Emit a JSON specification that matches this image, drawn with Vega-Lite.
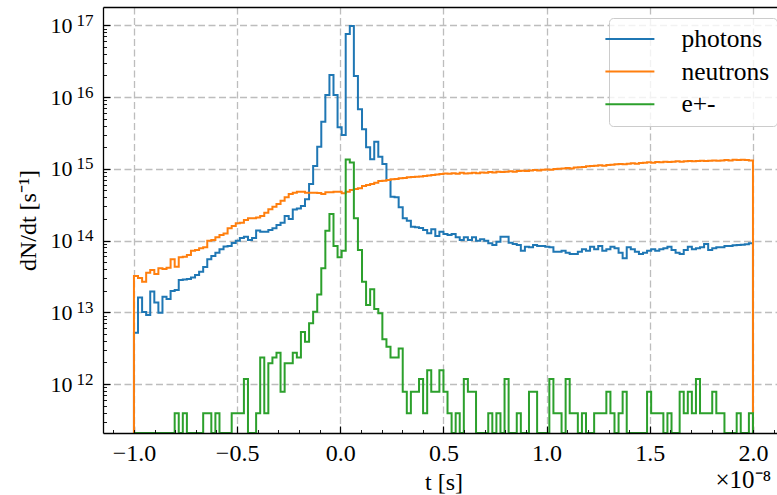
{
"$schema": "https://vega.github.io/schema/vega-lite/v6.json",
"width": 674, "height": 426,
"autosize": {"type": "none"},
"padding": {"left": 103, "top": 7, "right": 0, "bottom": 62},
"config": {
  "view": {"stroke": null},
  "font": "Liberation Serif",
  "axis": {"labelFont": "Liberation Serif", "titleFont": "Liberation Serif", "labelColor": "#000", "titleColor": "#000", "titleFontWeight": "normal", "tickColor": "#000", "domainColor": "#000", "labelFlush": false, "labelOverlap": false, "labelBound": false},
  "legend": {"labelFont": "Liberation Serif"}
},
"data": {"values": [
{"t":-1.0,"photons":0,"neutrons":0,"e+-":0},
{"t":-1.0,"photons":5.2e12,"neutrons":3.21e13,"e+-":0},
{"t":-0.9803,"photons":1.61e13,"neutrons":3.01e13,"e+-":0},
{"t":-0.9605,"photons":1.01e13,"neutrons":2.67e13,"e+-":0},
{"t":-0.9408,"photons":9.17e12,"neutrons":3.56e13,"e+-":0},
{"t":-0.9211,"photons":1.94e13,"neutrons":3.89e13,"e+-":0},
{"t":-0.9013,"photons":1.37e13,"neutrons":3.42e13,"e+-":0},
{"t":-0.8816,"photons":9.87e12,"neutrons":4.10e13,"e+-":0},
{"t":-0.8618,"photons":1.65e13,"neutrons":4.01e13,"e+-":0},
{"t":-0.8421,"photons":1.53e13,"neutrons":4.18e13,"e+-":0},
{"t":-0.8224,"photons":1.98e13,"neutrons":5.48e13,"e+-":0},
{"t":-0.8026,"photons":2.05e13,"neutrons":4.32e13,"e+-":3.9e11},
{"t":-0.7829,"photons":2.82e13,"neutrons":5.84e13,"e+-":0},
{"t":-0.7632,"photons":2.86e13,"neutrons":5.96e13,"e+-":3.9e11},
{"t":-0.7434,"photons":2.91e13,"neutrons":6.29e13,"e+-":0},
{"t":-0.7237,"photons":3.05e13,"neutrons":7.22e13,"e+-":0},
{"t":-0.7039,"photons":3.31e13,"neutrons":7.38e13,"e+-":0},
{"t":-0.6842,"photons":3.68e13,"neutrons":7.80e13,"e+-":0},
{"t":-0.6645,"photons":4.28e13,"neutrons":8.05e13,"e+-":3.9e11},
{"t":-0.6447,"photons":5.48e13,"neutrons":9.95e13,"e+-":3.9e11},
{"t":-0.625,"photons":6.09e13,"neutrons":1.018e14,"e+-":0},
{"t":-0.6053,"photons":6.77e13,"neutrons":1.11e14,"e+-":3.9e11},
{"t":-0.5855,"photons":7.55e13,"neutrons":1.195e14,"e+-":0},
{"t":-0.5658,"photons":8.26e13,"neutrons":1.254e14,"e+-":0},
{"t":-0.5461,"photons":8.39e13,"neutrons":1.48e14,"e+-":0},
{"t":-0.5263,"photons":9.24e13,"neutrons":1.595e14,"e+-":3.9e11},
{"t":-0.5066,"photons":9.95e13,"neutrons":1.74e14,"e+-":3.9e11},
{"t":-0.4868,"photons":1.085e14,"neutrons":1.77e14,"e+-":3.9e11},
{"t":-0.4671,"photons":1.13e14,"neutrons":1.93e14,"e+-":1.17e12},
{"t":-0.4474,"photons":1.018e14,"neutrons":2.04e14,"e+-":0},
{"t":-0.4276,"photons":1.085e14,"neutrons":2.04e14,"e+-":0},
{"t":-0.4079,"photons":1.38e14,"neutrons":2.10e14,"e+-":3.9e11},
{"t":-0.3882,"photons":1.33e14,"neutrons":2.20e14,"e+-":2.34e12},
{"t":-0.3684,"photons":1.33e14,"neutrons":2.44e14,"e+-":3.9e11},
{"t":-0.3487,"photons":1.40e14,"neutrons":2.73e14,"e+-":1.95e12},
{"t":-0.3289,"photons":1.48e14,"neutrons":2.96e14,"e+-":2.34e12},
{"t":-0.3092,"photons":1.65e14,"neutrons":3.23e14,"e+-":2.73e12},
{"t":-0.2895,"photons":1.77e14,"neutrons":3.59e14,"e+-":7.8e11},
{"t":-0.2697,"photons":2.20e14,"neutrons":4.01e14,"e+-":1.95e12},
{"t":-0.25,"photons":2.00e14,"neutrons":4.45e14,"e+-":1.95e12},
{"t":-0.2303,"photons":2.71e14,"neutrons":4.64e14,"e+-":2.73e12},
{"t":-0.2105,"photons":2.80e14,"neutrons":4.80e14,"e+-":2.34e12},
{"t":-0.1908,"photons":3.03e14,"neutrons":4.80e14,"e+-":5.31e12},
{"t":-0.1711,"photons":3.76e14,"neutrons":4.64e14,"e+-":3.89e12},
{"t":-0.1513,"photons":6.14e14,"neutrons":4.64e14,"e+-":7.02e12},
{"t":-0.1316,"photons":1.094e15,"neutrons":4.64e14,"e+-":1.02e13},
{"t":-0.1118,"photons":2.03e15,"neutrons":4.60e14,"e+-":1.77e13},
{"t":-0.0921,"photons":4.53e15,"neutrons":4.45e14,"e+-":4.10e13},
{"t":-0.0724,"photons":1.07e16,"neutrons":4.70e14,"e+-":1.372e14},
{"t":-0.0526,"photons":2.03e16,"neutrons":4.70e14,"e+-":2.34e14},
{"t":-0.0329,"photons":1.07e16,"neutrons":4.80e14,"e+-":8.39e13},
{"t":-0.0132,"photons":3.79e15,"neutrons":4.80e14,"e+-":5.84e13},
{"t":0.0066,"photons":2.96e15,"neutrons":4.55e14,"e+-":7.22e13},
{"t":0.0263,"photons":7.56e16,"neutrons":4.80e14,"e+-":1.35e15},
{"t":0.0461,"photons":9.78e16,"neutrons":5.06e14,"e+-":1.224e15},
{"t":0.0658,"photons":1.97e16,"neutrons":5.23e14,"e+-":2.04e14},
{"t":0.0855,"photons":6.75e15,"neutrons":5.35e14,"e+-":7.38e13},
{"t":0.1053,"photons":3.55e15,"neutrons":5.76e14,"e+-":2.67e13},
{"t":0.125,"photons":1.99e15,"neutrons":5.95e14,"e+-":1.264e13},
{"t":0.1447,"photons":1.36e15,"neutrons":6.14e14,"e+-":2.09e13},
{"t":0.1645,"photons":2.39e15,"neutrons":6.40e14,"e+-":1.11e13},
{"t":0.1842,"photons":1.47e15,"neutrons":6.76e14,"e+-":9.68e12},
{"t":0.2039,"photons":1.17e15,"neutrons":6.83e14,"e+-":4.2e12},
{"t":0.2237,"photons":6.98e14,"neutrons":6.98e14,"e+-":3.3e12},
{"t":0.2434,"photons":4.08e14,"neutrons":7.14e14,"e+-":2.34e12},
{"t":0.2632,"photons":4.01e14,"neutrons":7.21e14,"e+-":2.34e12},
{"t":0.2829,"photons":2.91e14,"neutrons":7.37e14,"e+-":3.12e12},
{"t":0.3026,"photons":2.04e14,"neutrons":7.42e14,"e+-":7.8e11},
{"t":0.3224,"photons":1.89e14,"neutrons":7.61e14,"e+-":3.9e11},
{"t":0.3421,"photons":1.56e14,"neutrons":7.66e14,"e+-":7.8e11},
{"t":0.3618,"photons":1.53e14,"neutrons":7.76e14,"e+-":7.8e11},
{"t":0.3816,"photons":1.50e14,"neutrons":7.83e14,"e+-":1.17e12},
{"t":0.4013,"photons":1.40e14,"neutrons":7.93e14,"e+-":3.9e11},
{"t":0.4211,"photons":1.26e14,"neutrons":8.06e14,"e+-":1.56e12},
{"t":0.4408,"photons":1.435e14,"neutrons":8.19e14,"e+-":7.8e11},
{"t":0.4605,"photons":1.157e14,"neutrons":8.32e14,"e+-":7.8e11},
{"t":0.4803,"photons":1.33e14,"neutrons":8.46e14,"e+-":1.56e12},
{"t":0.5,"photons":1.234e14,"neutrons":8.60e14,"e+-":7.8e11},
{"t":0.5197,"photons":1.195e14,"neutrons":8.52e14,"e+-":3.9e11},
{"t":0.5395,"photons":1.234e14,"neutrons":8.66e14,"e+-":0},
{"t":0.5592,"photons":1.11e14,"neutrons":8.56e14,"e+-":3.9e11},
{"t":0.5789,"photons":1.018e14,"neutrons":8.82e14,"e+-":0},
{"t":0.5987,"photons":1.11e14,"neutrons":8.60e14,"e+-":1.17e12},
{"t":0.6184,"photons":1.018e14,"neutrons":8.66e14,"e+-":7.8e11},
{"t":0.6382,"photons":1.11e14,"neutrons":8.82e14,"e+-":7.8e11},
{"t":0.6579,"photons":9.95e13,"neutrons":8.66e14,"e+-":0},
{"t":0.6776,"photons":1.041e14,"neutrons":8.9e14,"e+-":0},
{"t":0.6974,"photons":9.95e13,"neutrons":8.82e14,"e+-":0},
{"t":0.7171,"photons":9.15e13,"neutrons":9.02e14,"e+-":3.9e11},
{"t":0.7368,"photons":8.67e13,"neutrons":8.9e14,"e+-":0},
{"t":0.7566,"photons":9.64e13,"neutrons":9.1e14,"e+-":3.9e11},
{"t":0.7763,"photons":1.13e14,"neutrons":9.02e14,"e+-":0},
{"t":0.7961,"photons":1.13e14,"neutrons":9.1e14,"e+-":1.17e12},
{"t":0.8158,"photons":9.33e13,"neutrons":9.22e14,"e+-":0},
{"t":0.8355,"photons":8.95e13,"neutrons":9.1e14,"e+-":0},
{"t":0.8553,"photons":8.67e13,"neutrons":9.32e14,"e+-":3.9e11},
{"t":0.875,"photons":7.22e13,"neutrons":9.4e14,"e+-":0},
{"t":0.8947,"photons":8.21e13,"neutrons":9.32e14,"e+-":0},
{"t":0.9145,"photons":8.05e13,"neutrons":9.5e14,"e+-":7.8e11},
{"t":0.9342,"photons":8.67e13,"neutrons":9.62e14,"e+-":7.8e11},
{"t":0.9539,"photons":8.39e13,"neutrons":9.5e14,"e+-":0},
{"t":0.9737,"photons":8.39e13,"neutrons":9.7e14,"e+-":0},
{"t":0.9934,"photons":8.21e13,"neutrons":9.8e14,"e+-":0},
{"t":1.0132,"photons":8.05e13,"neutrons":9.7e14,"e+-":1.17e12},
{"t":1.0329,"photons":6.99e13,"neutrons":9.94e14,"e+-":3.9e11},
{"t":1.0526,"photons":6.99e13,"neutrons":1.0e15,"e+-":3.9e11},
{"t":1.0724,"photons":7.22e13,"neutrons":1.013e15,"e+-":0},
{"t":1.0921,"photons":6.77e13,"neutrons":1.026e15,"e+-":1.17e12},
{"t":1.1118,"photons":6.49e13,"neutrons":1.013e15,"e+-":3.9e11},
{"t":1.1316,"photons":6.49e13,"neutrons":1.04e15,"e+-":3.9e11},
{"t":1.1513,"photons":6.99e13,"neutrons":1.053e15,"e+-":0},
{"t":1.1711,"photons":7.55e13,"neutrons":1.06e15,"e+-":3.9e11},
{"t":1.1908,"photons":7.22e13,"neutrons":1.085e15,"e+-":0},
{"t":1.2105,"photons":8.21e13,"neutrons":1.094e15,"e+-":0},
{"t":1.2303,"photons":7.55e13,"neutrons":1.105e15,"e+-":3.9e11},
{"t":1.25,"photons":8.39e13,"neutrons":1.12e15,"e+-":3.9e11},
{"t":1.2697,"photons":7.22e13,"neutrons":1.105e15,"e+-":3.9e11},
{"t":1.2895,"photons":7.55e13,"neutrons":1.13e15,"e+-":7.8e11},
{"t":1.3092,"photons":8.21e13,"neutrons":1.14e15,"e+-":3.9e11},
{"t":1.3289,"photons":7.80e13,"neutrons":1.155e15,"e+-":0},
{"t":1.3487,"photons":6.77e13,"neutrons":1.167e15,"e+-":3.9e11},
{"t":1.3684,"photons":5.66e13,"neutrons":1.155e15,"e+-":7.8e11},
{"t":1.3882,"photons":8.05e13,"neutrons":1.18e15,"e+-":0},
{"t":1.4079,"photons":7.55e13,"neutrons":1.195e15,"e+-":0},
{"t":1.4276,"photons":6.99e13,"neutrons":1.18e15,"e+-":0},
{"t":1.4474,"photons":6.49e13,"neutrons":1.204e15,"e+-":0},
{"t":1.4671,"photons":6.77e13,"neutrons":1.215e15,"e+-":0},
{"t":1.4868,"photons":7.22e13,"neutrons":1.23e15,"e+-":7.8e11},
{"t":1.5066,"photons":7.55e13,"neutrons":1.215e15,"e+-":3.9e11},
{"t":1.5263,"photons":7.22e13,"neutrons":1.244e15,"e+-":3.9e11},
{"t":1.5461,"photons":7.55e13,"neutrons":1.23e15,"e+-":3.9e11},
{"t":1.5658,"photons":7.80e13,"neutrons":1.255e15,"e+-":0},
{"t":1.5855,"photons":8.21e13,"neutrons":1.244e15,"e+-":3.9e11},
{"t":1.6053,"photons":7.38e13,"neutrons":1.255e15,"e+-":0},
{"t":1.625,"photons":6.77e13,"neutrons":1.27e15,"e+-":0},
{"t":1.6447,"photons":6.49e13,"neutrons":1.255e15,"e+-":7.8e11},
{"t":1.6645,"photons":7.38e13,"neutrons":1.27e15,"e+-":3.9e11},
{"t":1.6842,"photons":8.21e13,"neutrons":1.285e15,"e+-":7.8e11},
{"t":1.7039,"photons":7.55e13,"neutrons":1.27e15,"e+-":3.9e11},
{"t":1.7237,"photons":7.80e13,"neutrons":1.285e15,"e+-":1.17e12},
{"t":1.7434,"photons":8.05e13,"neutrons":1.295e15,"e+-":3.9e11},
{"t":1.7632,"photons":8.95e13,"neutrons":1.285e15,"e+-":3.9e11},
{"t":1.7829,"photons":7.38e13,"neutrons":1.295e15,"e+-":3.9e11},
{"t":1.8026,"photons":7.80e13,"neutrons":1.31e15,"e+-":7.8e11},
{"t":1.8224,"photons":8.05e13,"neutrons":1.295e15,"e+-":3.9e11},
{"t":1.8421,"photons":8.05e13,"neutrons":1.31e15,"e+-":3.9e11},
{"t":1.8618,"photons":8.39e13,"neutrons":1.326e15,"e+-":0},
{"t":1.8816,"photons":8.39e13,"neutrons":1.31e15,"e+-":0},
{"t":1.9013,"photons":8.59e13,"neutrons":1.34e15,"e+-":0},
{"t":1.9211,"photons":8.67e13,"neutrons":1.326e15,"e+-":3.9e11},
{"t":1.9408,"photons":8.75e13,"neutrons":1.34e15,"e+-":0},
{"t":1.9605,"photons":8.85e13,"neutrons":1.326e15,"e+-":0},
{"t":1.9803,"photons":9.15e13,"neutrons":1.31e15,"e+-":3.9e11},
{"t":2.0,"photons":0,"neutrons":0,"e+-":0}
]},
"transform": [{"fold": ["photons", "neutrons", "e+-"], "as": ["species", "dNdt"]}],
"layer": [
{
  "mark": {"type": "line", "interpolate": "step-after", "strokeWidth": 2, "clip": true, "invalid": "show"},
  "encoding": {
    "x": {"field": "t", "type": "quantitative",
      "scale": {"domain": [-1.15, 2.1165], "nice": false, "zero": false},
      "axis": {"orient": "bottom", "values": [-1, -0.5, 0, 0.5, 1, 1.5, 2], "format": ".1f", "labelFontSize": 24, "labelPadding": 15, "tickSize": -7, "tickWidth": 1.2, "domain": false, "grid": true, "gridColor": "#bdbdbd", "gridDash": [7, 3.5], "gridWidth": 1.3, "title": "t [s]", "titleFontSize": 24, "titlePadding": 5, "titleX": 340.5, "zindex": 0}},
    "y": {"field": "dNdt", "type": "quantitative",
      "scale": {"type": "log", "domain": [2.075e11, 1.8e17], "nice": false, "clamp": true},
      "axis": {"orient": "left", "values": [1e12, 1e13, 1e14, 1e15, 1e16, 1e17], "labelExpr": "'10'", "labelFontSize": 22, "labelPadding": 38, "labelBaseline": "middle", "tickSize": -7, "tickWidth": 1.2, "domain": false, "grid": true, "gridColor": "#bdbdbd", "gridDash": [7, 3.5], "gridWidth": 1.3, "title": "dN/dt [s⁻¹]", "titleFontSize": 24, "titlePadding": 10, "zindex": 0}},
    "color": {"field": "species", "type": "nominal",
      "scale": {"domain": ["photons", "neutrons", "e+-"], "range": ["#1f77b4", "#ff7f0e", "#2ca02c"]},
      "legend": {"orient": "none", "legendX": 506, "legendY": 11, "title": null, "symbolType": "M-2,0H2", "symbolSize": 600, "symbolStrokeWidth": 2, "labelFont": "Liberation Serif", "labelFontSize": 25.5, "labelColor": "#000", "labelOffset": 38, "padding": 7.4, "rowPadding": 5.7, "fillColor": "rgba(255,255,255,0.8)", "strokeColor": "#cccccc", "cornerRadius": 4}}
  }
},
{
  "mark": {"type": "point", "opacity": 0},
  "encoding": {
    "x": {"field": "t", "type": "quantitative",
      "scale": {"domain": [-1.15, 2.1165], "nice": false, "zero": false},
      "axis": {"orient": "top", "domain": true, "domainWidth": 1.3, "ticks": false, "labels": false, "grid": false, "title": null, "zindex": 2}},
    "y": {"field": "dNdt", "type": "quantitative",
      "scale": {"type": "log", "domain": [2.075e11, 1.8e17], "nice": false, "clamp": true},
      "axis": {"orient": "left", "values": [3e11, 4e11, 5e11, 6e11, 7e11, 8e11, 9e11, 1e12, 2e12, 3e12, 4e12, 5e12, 6e12, 7e12, 8e12, 9e12, 1e13, 2e13, 3e13, 4e13, 5e13, 6e13, 7e13, 8e13, 9e13, 1e14, 2e14, 3e14, 4e14, 5e14, 6e14, 7e14, 8e14, 9e14, 1e15, 2e15, 3e15, 4e15, 5e15, 6e15, 7e15, 8e15, 9e15, 1e16, 2e16, 3e16, 4e16, 5e16, 6e16, 7e16, 8e16, 9e16, 1e17],
        "labelExpr": "abs(log(datum.value)/LN10 - round(log(datum.value)/LN10)) < 0.001 ? '' + round(log(datum.value)/LN10) : ''",
        "labelFontSize": 17, "labelPadding": 13.5, "labelOffset": -5, "labelBaseline": "middle", "tickSize": -3.5, "tickWidth": 0.9, "domain": true, "domainWidth": 1.3, "grid": false, "title": null, "zindex": 2}}
  }
},
{
  "mark": {"type": "point", "opacity": 0},
  "encoding": {
    "x": {"field": "t", "type": "quantitative",
      "scale": {"domain": [-1.15, 2.1165], "nice": false, "zero": false},
      "axis": {"orient": "bottom", "values": [-1.1, -1.0, -0.9, -0.8, -0.7, -0.6, -0.5, -0.4, -0.3, -0.2, -0.1, 0, 0.1, 0.2, 0.3, 0.4, 0.5, 0.6, 0.7, 0.8, 0.9, 1.0, 1.1, 1.2, 1.3, 1.4, 1.5, 1.6, 1.7, 1.8, 1.9, 2.0, 2.1], "labels": false, "tickSize": -3.5, "tickWidth": 0.9, "domain": true, "domainWidth": 1.3, "grid": false, "title": "×10⁻⁸", "titleFontSize": 25, "titleAlign": "left", "titleBaseline": "alphabetic", "titleX": 612, "titleY": 54, "zindex": 2}},
    "y": {"field": "dNdt", "type": "quantitative",
      "scale": {"type": "log", "domain": [2.075e11, 1.8e17], "nice": false, "clamp": true},
      "axis": null}
  }
}
],
"resolve": {"axis": {"x": "independent", "y": "independent"}}
}
